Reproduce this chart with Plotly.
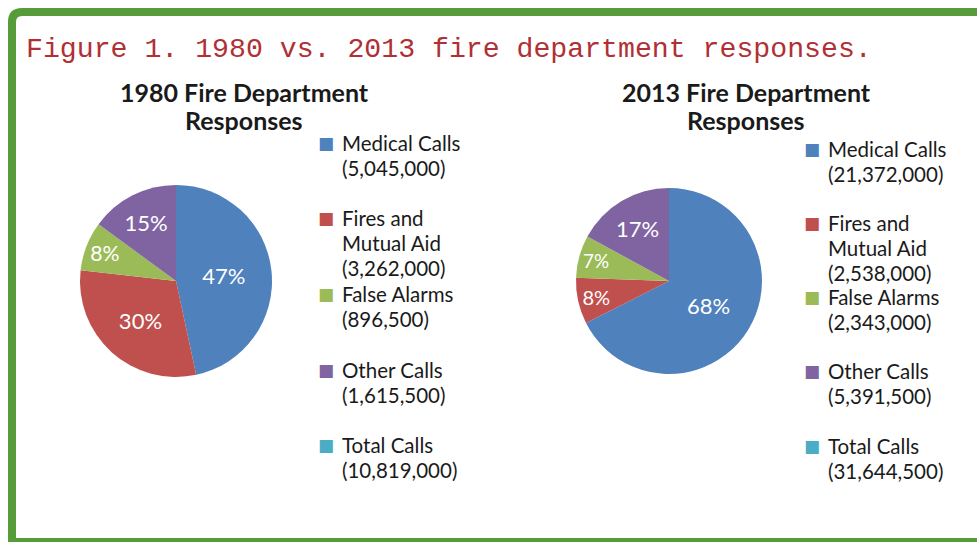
import plotly.graph_objects as go

categories = ["Medical Calls", "Fires and Mutual Aid", "False Alarms", "Other Calls"]
values_1980 = [5045000, 3262000, 896500, 1615500]
values_2013 = [21372000, 2538000, 2343000, 5391500]
total_1980 = 10819000
total_2013 = 31644500
legend_labels = [["Medical Calls"], ["Fires and", "Mutual Aid"], ["False Alarms"], ["Other Calls"], ["Total Calls"]]
colors = ["#4f81bd", "#c0504d", "#9bbb59", "#8064a2", "#4bacc6"]

W, H = 977, 542


def px(x):
    return x / W


def py(y):
    return 1 - y / H


fig = go.Figure()


def add_pie(vals, cx, cy, r):
    fig.add_trace(go.Pie(
        labels=categories, values=vals, sort=False, direction="clockwise", rotation=0,
        marker=dict(colors=colors[:4], line=dict(width=0)),
        texttemplate="%{percent:.0%}", textposition="inside", insidetextorientation="horizontal",
        textfont=dict(family="Lato", size=22, color="white"),
        domain=dict(x=[px(cx - r), px(cx + r)], y=[py(cy + r), py(cy - r)]),
        showlegend=False, hoverinfo="label+value+percent",
    ))


add_pie(values_1980, 176, 281, 96)
add_pie(values_2013, 669, 281, 93)

annotations = []
shapes = []

# Border
shapes.append(dict(type="path", xref="paper", yref="paper",
                   path=f"M {px(1000)},{py(12)} L {px(22)},{py(12)} Q {px(12)},{py(12)} {px(12)},{py(22)} L {px(12)},{py(545)}",
                   line=dict(color="#579c3b", width=8)))
shapes.append(dict(type="line", xref="paper", yref="paper", x0=px(8), x1=px(1000), y0=py(541), y1=py(541),
                   line=dict(color="#579c3b", width=6)))

annotations.append(dict(text="Figure 1. 1980 vs. 2013 fire department responses.", x=px(24), y=py(50),
                        xref="paper", yref="paper", xanchor="left", yanchor="middle", showarrow=False,
                        font=dict(family="Liberation Mono", size=28.2, color="#b03035")))

for cx, yr in [(244, "1980"), (746, "2013")]:
    annotations.append(dict(text=f"<b>{yr} Fire Department</b>", x=px(cx), y=py(92), xref="paper", yref="paper",
                            xanchor="center", yanchor="middle", showarrow=False,
                            font=dict(family="Lato", size=25, color="#1a1a1a")))
    annotations.append(dict(text="<b>Responses</b>", x=px(cx), y=py(120), xref="paper", yref="paper",
                            xanchor="center", yanchor="middle", showarrow=False,
                            font=dict(family="Lato", size=25, color="#1a1a1a")))


def add_legend(sq_x, vals, total, y_starts):
    nums = list(vals) + [total]
    for i, lab in enumerate(legend_labels):
        lines = lab + [f"({nums[i]:,})"]
        y0 = y_starts[i]
        annotations.append(dict(text="■", x=px(sq_x), y=py(y0), xref="paper", yref="paper",
                                xanchor="center", yanchor="middle", showarrow=False,
                                font=dict(family="DejaVu Sans", size=17, color=colors[i])))
        for j, ln in enumerate(lines):
            annotations.append(dict(text=ln, x=px(sq_x + 14), y=py(y0 + 24.8 * j), xref="paper", yref="paper",
                                    xanchor="left", yanchor="middle", showarrow=False,
                                    font=dict(family="Lato", size=20.5, color="#1a1a1a")))


add_legend(326, values_1980, total_1980, [143, 218, 294, 370, 445])
add_legend(812, values_2013, total_2013, [149, 223, 297, 371, 446])

fig.update_layout(width=W, height=H, margin=dict(l=0, r=0, t=0, b=0),
                  paper_bgcolor="white", plot_bgcolor="white",
                  annotations=annotations, shapes=shapes)

fig.write_html("out.html")
